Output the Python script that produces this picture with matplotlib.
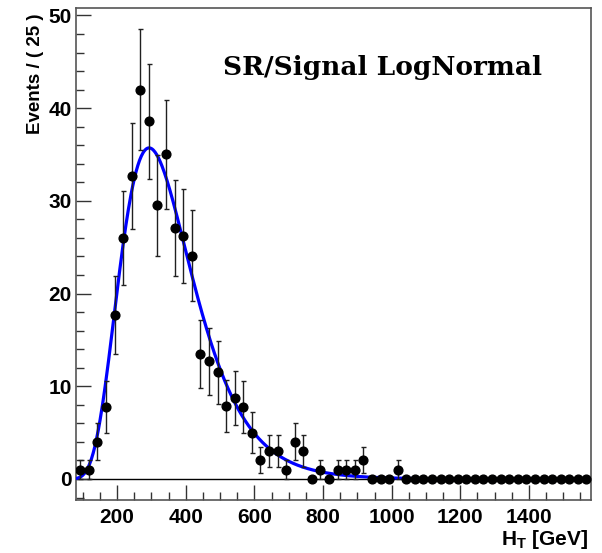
import numpy as np
import matplotlib
matplotlib.use("Agg")
from matplotlib import pyplot as plt
from matplotlib.ticker import MultipleLocator

# binned signal MC, 25 GeV bins starting at 80 GeV
binLow = 80
binWidth = 25
events = [1, 1, 4, 7.8, 17.7, 26, 32.7, 42, 38.6, 29.5,
          35, 27.1, 26.2, 24.1, 13.5, 12.7, 11.5, 7.9, 8.7, 7.8,
          5, 2, 3, 3, 1, 4, 3, 0, 1, 0,
          1, 1, 1, 2, 0, 0, 0, 1, 0, 0,
          0, 0, 0, 0, 0, 0, 0, 0, 0, 0,
          0, 0, 0, 0, 0, 0, 0, 0, 0, 0]
errors = [1, 1, 2, 2.8, 4.2, 5.1, 5.7, 6.5, 6.2, 5.4,
          5.9, 5.2, 5.1, 4.9, 3.7, 3.6, 3.4, 2.8, 2.9, 2.8,
          2.2, 1.4, 1.7, 1.7, 1, 2, 1.7, 0, 1, 0,
          1, 1, 1, 1.4, 0, 0, 0, 1, 0, 0,
          0, 0, 0, 0, 0, 0, 0, 0, 0, 0,
          0, 0, 0, 0, 0, 0, 0, 0, 0, 0]

# LogNormal fit parameters (RooLognormal: m0, k) and yield
fitM0 = 333.6
fitK = 1.433
fitYield = 402.8

plt.rcParams['font.family'] = ['Liberation Sans', 'DejaVu Sans']
plt.rcParams['mathtext.fontset'] = 'custom'
plt.rcParams['mathtext.rm'] = 'Liberation Sans:bold'
plt.rcParams['mathtext.bf'] = 'Liberation Sans:bold'
plt.rcParams['mathtext.it'] = 'Liberation Sans:bold'

fig = plt.figure(figsize=(6.02, 5.53), dpi=100)
ax = fig.add_axes([0.1262, 0.0958, 0.855, 0.8897])

nBins = len(events)
xHigh = binLow + nBins * binWidth
centers = binLow + binWidth * (np.arange(nBins) + 0.5)

ax.axhline(0, color='black', lw=1, zorder=1)

# fit curve
xs = np.linspace(binLow, xHigh, 600)
s = np.log(fitK)
pdf = np.exp(-(np.log(xs / fitM0)) ** 2 / (2 * s * s)) / (xs * s * np.sqrt(2 * np.pi))
ax.plot(xs, fitYield * binWidth * pdf, color='#0000ff', lw=2.3, zorder=3)

ax.errorbar(centers, events, yerr=errors, fmt='o', color='black', ms=6.3,
            ecolor='#202020', elinewidth=1, capsize=1.8, capthick=1, zorder=4)

ax.set_xlim(binLow, xHigh)
ax.set_ylim(-2.27, 50.8)

ax.xaxis.set_major_locator(MultipleLocator(200))
ax.xaxis.set_minor_locator(MultipleLocator(50))
ax.yaxis.set_major_locator(MultipleLocator(10))
ax.yaxis.set_minor_locator(MultipleLocator(2))
ax.tick_params(which='both', direction='in', top=False, right=False, color='#333333')
ax.tick_params(which='major', length=11, width=1)
ax.tick_params(which='minor', length=5.5, width=1)
ax.tick_params(axis='x', which='major', pad=6)
ax.tick_params(axis='y', which='major', pad=3)
for lab in ax.get_xticklabels() + ax.get_yticklabels():
    lab.set_fontsize(15)
    lab.set_fontweight('bold')

for sp in ax.spines.values():
    sp.set_color('#555555')
    sp.set_linewidth(1.2)

fig.text(588 / 602, 1 - 545 / 553, r'$\mathbf{H_T}$ [GeV]', ha='right', va='baseline',
         fontsize=15, fontweight='bold')
fig.text(36 / 602, 1 - 13 / 553, 'Events / ( 25 )', rotation=90, ha='center', va='top',
         fontsize=13.5, fontweight='bold')

ax.text(382 / 602, 1 - 75 / 553, 'SR/Signal LogNormal', transform=fig.transFigure,
        ha='center', va='baseline', fontsize=19, fontweight='bold', family='DejaVu Serif')

fig.savefig('out.png', dpi=100)
